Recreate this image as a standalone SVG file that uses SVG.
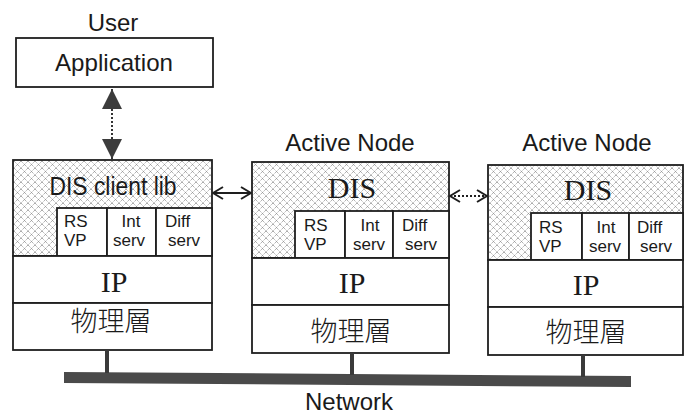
<svg xmlns="http://www.w3.org/2000/svg" width="692" height="414" viewBox="0 0 692 414">
<style>
.box{fill:#fff;stroke:#1e1e1e;stroke-width:1.8}
.shade{fill:url(#hatch);stroke:#1e1e1e;stroke-width:1.8}
.sans{font-family:"Liberation Sans","Noto Sans CJK JP",sans-serif;fill:#1a1a1a}
.serif{font-family:"Liberation Serif","Noto Serif CJK JP",serif;fill:#1a1a1a}
.cjk{font-family:"Noto Sans CJK JP","Noto Sans CJK TC",sans-serif;fill:#1a1a1a;font-weight:300}
.lbl{font-size:24px}
.small{font-size:17px}
.big{font-size:30px}
.conn{stroke:#1e1e1e;stroke-width:1.8;fill:none}
.stub{fill:#3a3a3a}
</style>
<defs>
<pattern id="hatch" width="7" height="7" patternUnits="userSpaceOnUse">
<rect width="7" height="7" fill="#fff"/>
<path d="M0,0 L7,7 M7,0 L0,7" stroke="#7a7a7a" stroke-width="0.75" stroke-dasharray="1.2,0.8"/>
</pattern>
<marker id="chev" viewBox="0 0 12 14" refX="11" refY="7" markerWidth="12" markerHeight="14" markerUnits="userSpaceOnUse" orient="auto-start-reverse">
<path d="M1,1 L11,7 L1,13" fill="none" stroke="#1e1e1e" stroke-width="2"/>
</marker>
<marker id="tri" viewBox="0 0 20 20" refX="20" refY="10" markerWidth="20" markerHeight="20" markerUnits="userSpaceOnUse" orient="auto-start-reverse">
<path d="M0,0 L20,10 L0,20 Z" fill="#3c3c3c"/>
</marker>
</defs>

<g id="user-app">
<text class="sans lbl" x="113" y="31" text-anchor="middle">User</text>
<rect class="box" x="16" y="38" width="197" height="49"/>
<text class="sans lbl" x="114" y="71" text-anchor="middle" font-size="25" textLength="118" lengthAdjust="spacingAndGlyphs">Application</text>
</g>

<g id="client-node">
<rect class="shade" x="13" y="160" width="199" height="96"/>
<rect class="box" x="57" y="208" width="50" height="48"/>
<rect class="box" x="107" y="208" width="49" height="48"/>
<rect class="box" x="156" y="208" width="56" height="48"/>
<rect class="box" x="13" y="256" width="199" height="47"/>
<rect class="box" x="13" y="303" width="199" height="47"/>
<text class="sans" x="113" y="195" text-anchor="middle" font-size="26" textLength="127" lengthAdjust="spacingAndGlyphs">DIS client lib</text>
<text class="sans small" x="64" y="227">RS</text>
<text class="sans small" x="64" y="246">VP</text>
<text class="sans small" x="131" y="227" text-anchor="middle">Int</text>
<text class="sans small" x="129" y="246" text-anchor="middle">serv</text>
<text class="sans small" x="165" y="227">Diff</text>
<text class="sans small" x="168" y="246">serv</text>
<text class="serif big" x="114" y="292" text-anchor="middle">IP</text>
<text class="cjk" x="111" y="331" text-anchor="middle" font-size="27">物理層</text>
</g>

<g id="active-node-1">
<text class="sans lbl" x="350" y="151" text-anchor="middle">Active Node</text>
<rect class="shade" x="252" y="162" width="197" height="96"/>
<rect class="box" x="295" y="211" width="50" height="47"/>
<rect class="box" x="345" y="211" width="48" height="47"/>
<rect class="box" x="393" y="211" width="56" height="47"/>
<rect class="box" x="252" y="258" width="197" height="47"/>
<rect class="box" x="252" y="305" width="197" height="48"/>
<text class="serif big" x="352" y="198" text-anchor="middle">DIS</text>
<text class="sans small" x="304" y="231">RS</text>
<text class="sans small" x="304" y="250">VP</text>
<text class="sans small" x="370" y="231" text-anchor="middle">Int</text>
<text class="sans small" x="369" y="250" text-anchor="middle">serv</text>
<text class="sans small" x="402" y="231">Diff</text>
<text class="sans small" x="405" y="250">serv</text>
<text class="serif big" x="352" y="293" text-anchor="middle">IP</text>
<text class="cjk" x="351" y="341" text-anchor="middle" font-size="27">物理層</text>
</g>

<g id="active-node-2">
<text class="sans lbl" x="587" y="151" text-anchor="middle">Active Node</text>
<rect class="shade" x="488" y="165" width="195" height="95"/>
<rect class="box" x="531" y="213" width="51" height="47"/>
<rect class="box" x="582" y="213" width="47" height="47"/>
<rect class="box" x="629" y="213" width="54" height="47"/>
<rect class="box" x="488" y="260" width="195" height="47"/>
<rect class="box" x="488" y="307" width="195" height="48"/>
<text class="serif big" x="588" y="200" text-anchor="middle">DIS</text>
<text class="sans small" x="539" y="233">RS</text>
<text class="sans small" x="539" y="252">VP</text>
<text class="sans small" x="606" y="233" text-anchor="middle">Int</text>
<text class="sans small" x="605" y="252" text-anchor="middle">serv</text>
<text class="sans small" x="637" y="233">Diff</text>
<text class="sans small" x="640" y="252">serv</text>
<text class="serif big" x="586" y="295" text-anchor="middle">IP</text>
<text class="cjk" x="586" y="342" text-anchor="middle" font-size="27">物理層</text>
</g>

<g id="network">
<polygon points="64,372 631,376 631,387 64,383" fill="#4a4a4a"/>
<text class="sans lbl" x="349" y="410" text-anchor="middle">Network</text>
</g>

<g id="connectors">
<line class="conn" x1="112" y1="89" x2="112" y2="159" stroke-dasharray="2,2" marker-start="url(#tri)" marker-end="url(#tri)"/>
<line class="conn" x1="213" y1="193" x2="251" y2="193" marker-start="url(#chev)" marker-end="url(#chev)"/>
<line class="conn" x1="450" y1="196" x2="487" y2="196" stroke-dasharray="2,2" marker-start="url(#chev)" marker-end="url(#chev)"/>
<rect class="stub" x="105" y="350" width="4" height="23"/>
<rect class="stub" x="350" y="353" width="4" height="22"/>
<rect class="stub" x="581" y="355" width="4" height="22"/>
</g>
</svg>
